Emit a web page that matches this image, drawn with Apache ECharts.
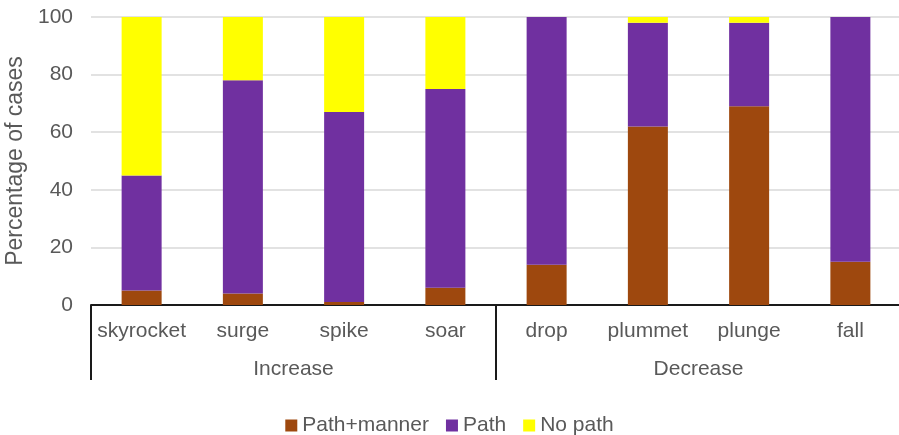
<!DOCTYPE html>
<html>
<head>
<meta charset="utf-8">
<script src="https://cdn.jsdelivr.net/npm/echarts@6/dist/echarts.min.js"></script>
<style>
  html, body { margin: 0; padding: 0; background: #fff; }
  #chart { width: 899px; height: 435px; }
</style>
</head>
<body>
<div id="chart"></div>
<script>
// Verbs of change, grouped by direction
const verbs = ['skyrocket', 'surge', 'spike', 'soar', 'drop', 'plummet', 'plunge', 'fall'];
const groups = ['Increase', 'Decrease'];

// Percentage of cases per encoding type
const pathManner = [5, 4, 1, 6, 14, 62, 69, 15];
const pathOnly   = [40, 74, 66, 69, 86, 36, 29, 85];
const noPath     = [55, 22, 33, 25, 0, 2, 2, 0];

const yTicks = [0, 20, 40, 60, 80, 100];

const textGray = '#595959';
const fontFamily = 'Liberation Sans, Arial, sans-serif';

const chart = echarts.init(document.getElementById('chart'));

chart.setOption({
  animation: false,
  textStyle: { fontFamily: fontFamily },
  grid: {
    left: 91, right: -2, top: 17, bottom: 130,
    containLabel: false,
    outerBoundsMode: 'none'
  },
  legend: {
    top: 410,
    left: 'center',
    itemWidth: 12,
    itemHeight: 12,
    itemGap: 17,
    icon: 'rect',
    textStyle: { fontSize: 21, color: textGray, fontFamily: fontFamily },
    data: ['Path+manner', 'Path', 'No path']
  },
  xAxis: [
    {
      type: 'category',
      data: verbs,
      position: 'bottom',
      axisLine: { show: true, lineStyle: { color: '#1a1a1a', width: 2 } },
      axisTick: { show: false },
      axisLabel: { fontSize: 21, color: textGray, margin: 16, interval: 0 },
      splitLine: { show: false }
    },
    {
      type: 'category',
      data: groups,
      position: 'bottom',
      axisLine: { show: false },
      axisTick: { show: true, length: 75, lineStyle: { color: '#1a1a1a', width: 2 } },
      axisLabel: { fontSize: 21, color: textGray, margin: 54, interval: 0 },
      splitLine: { show: false }
    }
  ],
  yAxis: {
    type: 'value',
    min: yTicks[0],
    max: yTicks[yTicks.length - 1],
    interval: yTicks[1] - yTicks[0],
    name: 'Percentage of cases',
    nameLocation: 'middle',
    nameGap: 59,
    nameTextStyle: { fontSize: 23, color: textGray },
    axisLine: { show: false },
    axisTick: { show: false },
    axisLabel: { fontSize: 21, color: textGray, margin: 18 },
    splitLine: { show: true, lineStyle: { color: '#d9d9d9', width: 1.5 } }
  },
  series: [
    {
      name: 'Path+manner', type: 'bar', stack: 'total', xAxisIndex: 0,
      barWidth: 40, data: pathManner,
      itemStyle: { color: '#9E480E' }
    },
    {
      name: 'Path', type: 'bar', stack: 'total', xAxisIndex: 0,
      barWidth: 40, data: pathOnly,
      itemStyle: { color: '#7030A0' }
    },
    {
      name: 'No path', type: 'bar', stack: 'total', xAxisIndex: 0,
      barWidth: 40, data: noPath,
      itemStyle: { color: '#FFFF00' }
    }
  ]
});
</script>
</body>
</html>
